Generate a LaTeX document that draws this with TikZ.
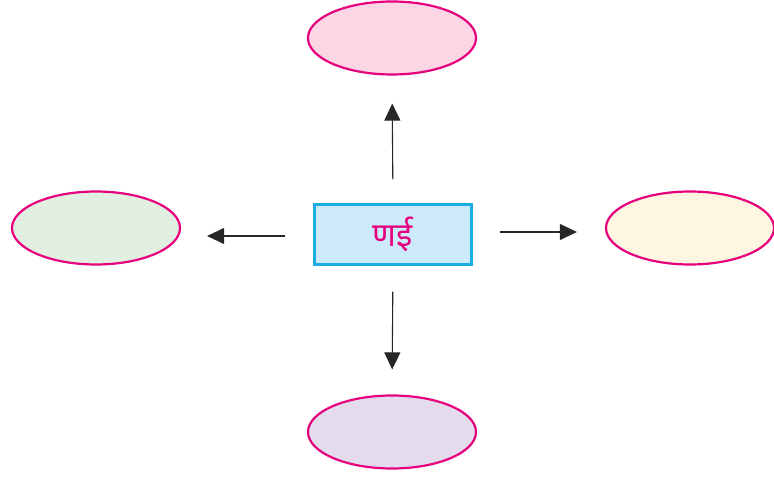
\documentclass[tikz,border=0pt]{standalone}
\usepackage{fontspec}
\newfontfamily\devfont[Script=Devanagari]{Noto Sans}
\usepackage{xcolor}
\usetikzlibrary{arrows.meta,shapes.geometric}
\definecolor{rim}{HTML}{E6007E}
\definecolor{boxrim}{HTML}{1AAEE5}
\definecolor{boxfill}{HTML}{CDEAFB}
\definecolor{pinkfill}{HTML}{FDD6E5}
\definecolor{greenfill}{HTML}{E0EFE0}
\definecolor{creamfill}{HTML}{FEF6E0}
\definecolor{lilacfill}{HTML}{E4DCEC}

\begin{document}
\begin{tikzpicture}[x=1pt,y=-1pt,
        bubble/.style={ellipse,draw=rim,line width=2.2pt,minimum width=168pt,minimum height=73pt,inner sep=0pt},
        pointer/.style={draw=black!85,line width=1.1pt,-{Triangle[length=17pt,width=16pt]}}]
        \useasboundingbox (0,0) rectangle (774,478);

        \node[bubble,fill=pinkfill] (top) at (392,38) {};
        \node[bubble,fill=greenfill] (lft) at (96,228) {};
        \node[bubble,fill=creamfill] (rgt) at (690,228) {};
        \node[bubble,fill=lilacfill] (bot) at (392,432) {};

        \node[draw=boxrim,fill=boxfill,line width=2.2pt,minimum width=157pt,minimum height=60pt,inner sep=0pt,
              text=rim,font=\devfont\fontsize{33}{36}\selectfont] (nai) at (393,234.5) {\raisebox{2pt}{णई}};

        % arrows out of the box
        \draw[pointer,shorten <=24pt,shorten >=28pt] (nai.north) -- (top.south);
        \draw[pointer,shorten <=28pt,shorten >=26pt] ([yshift=-1.5pt]nai.west) -- ([yshift=-1.5pt]nai.west -| lft.east);
        \draw[pointer,shorten <=27pt,shorten >=28pt] ([yshift=2.5pt]nai.east) -- ([yshift=2.5pt]nai.east -| rgt.west);
        \draw[pointer,shorten <=26pt,shorten >=25pt] (nai.south) -- (bot.north);
\end{tikzpicture}
\end{document}
